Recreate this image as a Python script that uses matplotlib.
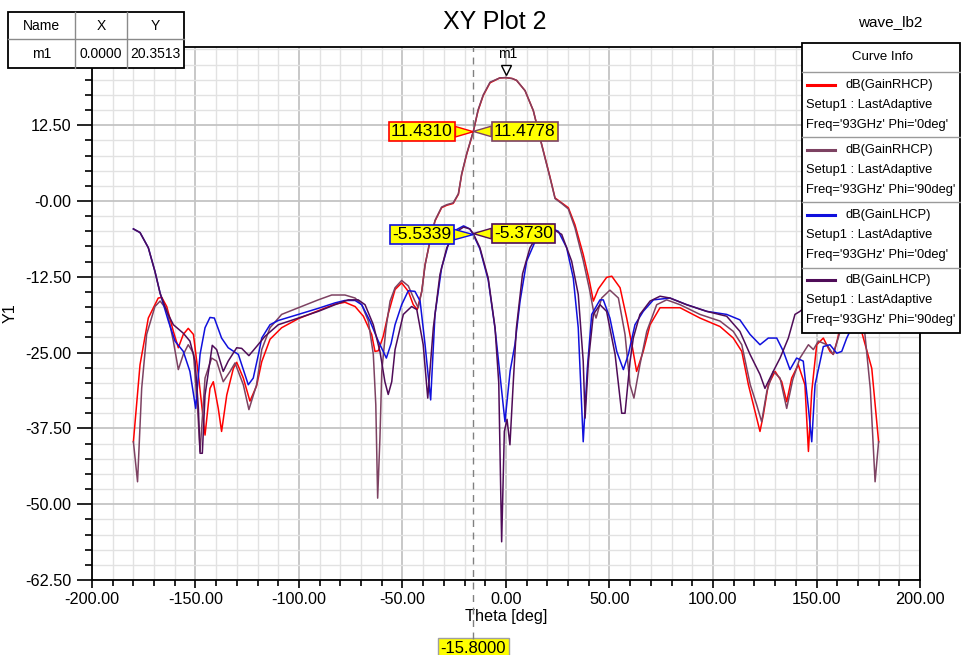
import matplotlib
matplotlib.use("Agg")
import matplotlib.pyplot as plt
from matplotlib.patches import Rectangle
from matplotlib.lines import Line2D
from matplotlib.ticker import MultipleLocator

plt.rcParams["font.family"] = ["Liberation Sans", "DejaVu Sans"]

# ---- data ----
theta_rhcp0 = [-180, -176.8, -172.8, -168, -166.3, -163.9, -160.7, -158.3, -155.9, -153.5, -151, -148.6,
               -145.4, -143, -141.4, -139, -137.4, -134.9, -131.7, -130.1, -126.9, -123.7, -120.5, -118,
               -114, -108.4, -100.3, -90.7, -82.6, -77.8, -72.9, -68.9, -64.9, -63.3, -61.7, -59.3, -56.9,
               -53.6, -50.4, -47.2, -44.8, -42.9, -40.7, -39.1, -36.7, -34.3, -31.1, -28.6, -25.5, -23,
               -21.4, -19, -15.8, -13.5, -11, -7.7, -3, 0, 3, 5.1, 9.2, 13.2, 17.2, 21.3, 23.7, 26.9, 30.1,
               33.3, 37.3, 40.3, 42.2, 44.6, 48.6, 51.1, 55.1, 58.3, 61, 63.1, 66.3, 69.6, 74.4, 84.1, 93.7,
               103.4, 109.8, 113.9, 117.1, 120.3, 122.7, 124.3, 126.7, 130, 133.2, 135.6, 138, 141.2, 144.4,
               146.1, 147.7, 150.1, 153.3, 156.5, 158.1, 160, 163, 166, 168.5, 172, 176.7, 180]
gain_rhcp0 = [-39.7, -27, -19.3, -16, -15.9, -17.4, -21.5, -24.2, -22, -21, -22, -28.7,
              -38.6, -30.9, -29.8, -34.2, -38, -32, -27.6, -26.6, -29.2, -33, -30.5, -26.5,
              -22.8, -20.9, -19.4, -18.1, -17.0, -16.7, -17.4, -19.0, -22, -24.8, -24.7, -22.3, -18.6,
              -14.6, -13.5, -14.9, -17.1, -17.9, -14.9, -10.5, -6.6, -3.3, -1.1, -0.7, -0.4, 1.1,
              4.4, 7.7, 11.431, 14.9, 17.4, 19.5, 20.3, 20.3513, 20.2, 19.9, 18.2, 14.9, 9.4, 3.9, 0.5, -0.3, -1.1,
              -3.9, -8.8, -13.2, -16.5, -14.5, -12.6, -12.4, -14.3, -19.3, -24, -28.1, -24.8, -20.4, -17.6, -17.6, -19.3,
              -20.7, -22.6, -24.8, -30.3, -34.7, -38, -35.3, -30.3, -28.1, -29.8, -33.1, -29.2, -27, -30.3,
              -41.3, -31.4, -23.7, -22.6, -24.8, -25.3, -23, -18.5, -16.5, -16.5, -21.8, -27.6, -39.7]

theta_rhcp90 = [-180, -178, -176, -173.6, -169.6, -167.1, -163.9, -160.7, -158.3, -155.9, -153.5, -151, -149,
                -147.8, -145.4, -142.2, -139.8, -136.6, -133.3, -130.9, -126.9, -124.2, -120.5, -118, -114,
                -108.4, -100.3, -90.7, -84.2, -77.8, -72.9, -69.7, -66.5, -64.1, -62.9, -62, -60.9, -60, -58,
                -56, -53.6, -50.4, -47.2, -44, -42.4, -40.7, -39.1, -36.7, -34.3, -31.1, -28.6, -25.5, -23,
                -21.4, -19, -15.8, -13.5, -11, -7.7, -3, 0, 3, 5.1, 9.2, 13.2, 17.2, 21.3, 23.7, 26.9, 30.1,
                33.3, 37.3, 40.3, 42.2, 43.5, 46.2, 50.2, 54.3, 57.5, 59.9, 61.8, 64.7, 68, 72.8, 77.6, 84.1,
                93.7, 103.4, 109.8, 113.9, 118, 121.1, 123.5, 126, 129.1, 132.4, 135.6, 138.5, 142, 146.1,
                148.5, 150.9, 155, 158.1, 161, 165, 169, 171.5, 173.4, 176, 178.3, 180]
gain_rhcp90 = [-39.7, -46.3, -30.9, -22, -17.4, -16.5, -17.9, -23.1, -27.8, -25.3, -23.7, -25.1, -34.2,
               -41.3, -29.2, -25.9, -26.4, -29.8, -28.1, -26.7, -30.3, -34.4, -30.3, -24.5, -20.9,
               -18.7, -17.6, -16.3, -15.5, -15.5, -16, -17.1, -19.8, -25.3, -33.6, -49, -39.1, -28, -21,
               -16.5, -14.3, -13.1, -14, -16.5, -17.6, -14.9, -10.6, -6.5, -3.2, -1.0, -0.6, -0.3, 1.2,
               4.5, 7.8, 11.4778, 15.0, 17.5, 19.6, 20.3, 20.35, 20.2, 19.9, 18.2, 14.9, 9.3, 3.8, 0.4, -0.4, -1.3,
               -4.4, -9.8, -14.5, -18, -19.3, -16, -14.7, -16, -22, -30.3, -32.5, -27, -21.5, -17.1, -16.3, -17.1,
               -18.7, -19.8, -21.5, -23.7, -30.3, -33.6, -36.4, -31.4, -28.1, -29.2, -34.2, -29.5, -25.9, -23.7,
               -24.5, -23.1, -23.7, -25.3, -22, -17.5, -16.8, -18.5, -22, -31, -46.3, -39.7]

theta_lhcp0 = [-180, -176.8, -172.8, -169.6, -167.1, -163.1, -159.9, -155.9, -152.7, -149.9, -147.8, -145.4,
               -143, -140.9, -137.4, -134.2, -129.3, -124.5, -122.1, -119.6, -118, -114, -110, -100.3, -90.7,
               -82.6, -77.8, -72.9, -69.7, -65.7, -61.7, -57.8, -55.5, -53.6, -50.4, -47.2, -44, -41.5, -39.1,
               -36.4, -34.3, -31.1, -27.9, -23.8, -20.5, -17.5, -15.8, -12.6, -8.6, -5.3, -2.5, -0.5, 2, 4.3,
               6.8, 10, 14.8, 21.3, 25.3, 29.3, 32.5, 34.9, 37.3, 39.3, 41.4, 45.4, 47, 50.2, 53.5, 56.7, 59.1,
               62.3, 66.3, 71.2, 79.2, 87.3, 97, 106.6, 113, 117.9, 122.7, 126.7, 130.8, 134, 137.2, 140.4,
               143.6, 146.1, 147.7, 149.3, 153.3, 156.5, 159.8, 162.2, 164.6, 167, 170, 173, 176, 180]
gain_lhcp0 = [-4.6, -5.2, -7.7, -11.6, -15.2, -19.8, -23.1, -24.8, -28.1, -34.2, -25.3, -20.9,
              -19.2, -19.3, -22.6, -24.2, -25.3, -30.3, -29.2, -25.3, -22.6, -20.4, -19.7, -18.7, -17.7,
              -16.8, -16.4, -16.4, -17.1, -19.8, -23.1, -25.9, -23.5, -20.4, -17.1, -14.8, -14.9, -16.5, -23.7,
              -32.8, -18.7, -11, -7.2, -4.7, -4.1, -4.6, -5.5339, -7.9, -13, -21, -30, -36.4, -28, -23.7,
              -16.5, -9.9, -6.1, -4.4, -5, -7.7, -12.7, -20.9, -39.7, -27.6, -18.7, -16.3, -16.3, -19.3, -24.8, -27.8, -25.3,
              -20.4, -18.2, -16.3, -16, -17.1, -18.2, -18.7, -19.6, -22, -23.7, -22.6, -22.6, -24.8, -27.8, -25.9,
              -26.4, -34.2, -39.7, -30.3, -24, -23.7, -25.1, -24.8, -22.6, -20.9, -15, -10, -6.5, -4.6]

theta_lhcp90 = [-180, -176.8, -172.8, -169.6, -167.1, -163.9, -160.7, -155.9, -152.7, -150.2, -148.6, -147.8,
                -146.7, -145.4, -143, -141.9, -139.8, -136.6, -134.2, -130.1, -127.7, -124.2, -120.5, -116.4,
                -110, -100.3, -90.7, -82.6, -76.2, -71.4, -68.1, -64.1, -60.9, -58.5, -56.9, -55.2, -53.6,
                -49.6, -45.6, -43.1, -40, -37.8, -35.1, -31.9, -28.6, -24.6, -20.5, -17.5, -15.8, -12.6, -8.6,
                -5.3, -3.5, -2.1, -0.8, 0.5, 1.9, 3.5, 5, 8, 11.6, 16.4, 22.9, 26.9, 31.7, 34.9, 37.3, 38.2,
                39.8, 42.2, 45.4, 48.6, 52.7, 55.9, 57.5, 59.9, 61.5, 64.7, 69.6, 74.4, 79.2, 87.3, 97, 106.6,
                113, 117.9, 122.7, 125.1, 129.1, 132.4, 136.4, 139.6, 142, 146, 152, 158, 163, 168, 173, 177, 180]
gain_lhcp90 = [-4.6, -5.2, -7.7, -11.6, -15.2, -18.2, -20.4, -21.8, -23.1, -26.4, -34.2, -41.6,
               -41.6, -32, -26.4, -23.8, -24.5, -28.1, -26.4, -24.2, -24.3, -25.5, -24, -22.3,
               -20.4, -19.3, -18.2, -17.1, -16.3, -16.3, -17.1, -20.4, -24.8, -29.8, -31.9, -29.8, -24.5,
               -18.7, -17.4, -17.9, -23.7, -32.5, -20.9, -12.1, -7.7, -5.2, -4.3, -4.6, -5.373, -7.7, -12.7,
               -20.9, -30, -56.2, -38, -36, -40.2, -30, -21, -12, -7.7, -5, -4.7, -5.5, -9.9, -15.4, -26.4, -35.8,
               -26.4, -18.7, -17.1, -18.2, -25.3, -35, -35, -26.5, -22.6, -18.7, -16.5, -15.7, -16, -17.1, -18.2, -19,
               -21.5, -25.3, -28.6, -30.9, -28.1, -25.9, -22.6, -18.7, -18.2, -17, -17.5, -17, -15, -11, -7.5, -5.3, -4.6]

series = [
    (theta_rhcp0, gain_rhcp0, "#ff0000", "dB(GainRHCP)", "Phi='0deg'"),
    (theta_rhcp90, gain_rhcp90, "#7d4262", "dB(GainRHCP)", "Phi='90deg'"),
    (theta_lhcp0, gain_lhcp0, "#1010dd", "dB(GainLHCP)", "Phi='0deg'"),
    (theta_lhcp90, gain_lhcp90, "#4f0c58", "dB(GainLHCP)", "Phi='90deg'"),
]

marker_theta = -15.8
marker_vals = [11.4310, 11.4778, -5.5339, -5.3730]
m1_x, m1_y = 0.0, 20.3513

xticks = [-200, -150, -100, -50, 0, 50, 100, 150, 200]
xtick_labels = ["-200.00", "-150.00", "-100.00", "-50.00", "0.00", "50.00", "100.00", "150.00", "200.00"]
yticks = [-62.5, -50, -37.5, -25, -12.5, 0, 12.5]
ytick_labels = ["-62.50", "-50.00", "-37.50", "-25.00", "-12.50", "-0.00", "12.50"]

W, H = 962, 655
fig = plt.figure(figsize=(W / 100, H / 100), dpi=100)
ax = fig.add_axes([92 / W, 1 - 580 / H, 828 / W, 533 / H])


def fx(x):
    return x / W


def fy(y):
    return 1 - y / H


for th, g, col, name, phi in series:
    ax.plot(th, g, color=col, lw=1.1, zorder=3)

ax.set_xlim(-200, 200)
ax.set_ylim(-62.5, 25.4)
ax.set_xticks(xticks)
ax.set_xticklabels(xtick_labels)
ax.set_yticks(yticks)
ax.set_yticklabels(ytick_labels)
ax.xaxis.set_minor_locator(MultipleLocator(10))
ax.yaxis.set_minor_locator(MultipleLocator(2.5))
ax.grid(which="minor", color="#e2e2e2", lw=1.0, zorder=0)
ax.grid(which="major", color="#c4c4c4", lw=1.3, zorder=0)
ax.set_axisbelow(True)
ax.tick_params(axis="y", which="major", direction="out", length=10.8, width=1.2, pad=4, labelsize=11.7)
ax.tick_params(axis="y", which="minor", direction="out", length=5, width=1.2)
ax.tick_params(axis="x", which="major", direction="out", length=6, width=1.2, pad=3, labelsize=11.7)
ax.tick_params(axis="x", which="minor", direction="out", length=4, width=1.2)
for s in ax.spines.values():
    s.set_linewidth(1.3)
ax.set_xlabel("Theta [deg]", fontsize=11.7, labelpad=1)
ax.set_ylabel("Y1", fontsize=11.7)
ax.yaxis.set_label_coords((18 - 92) / 828, 0.5)

# marker line
ax.plot([marker_theta, marker_theta], [-0.11, 1], transform=ax.get_xaxis_transform(),
        color="#808080", lw=1.0, ls=(0, (5, 4)), clip_on=False, zorder=4)

# marker labels
offsets = [(-37, 0), (37, 0), (-37, 0), (36, 0)]
for (th, g, col, name, phi), v, off in zip(series, marker_vals, offsets):
    ax.annotate(f"{v:.4f}", xy=(marker_theta, v), xytext=off, textcoords="offset points",
                ha="center", va="center", fontsize=12.5, annotation_clip=False, zorder=6,
                bbox=dict(boxstyle="square,pad=0.12", fc="#ffff00", ec=col, lw=1.2),
                arrowprops=dict(arrowstyle="wedge,tail_width=0.6,shrink_factor=0.5",
                                fc="#ffff00", ec=col, lw=1.0, shrinkA=0, shrinkB=0))

ax.annotate(f"{marker_theta:.4f}", xy=(marker_theta, 0), xycoords=("data", "axes fraction"),
            xytext=(0, -49), textcoords="offset points", ha="center", va="center", fontsize=12,
            bbox=dict(boxstyle="square,pad=0.15", fc="#ffff00", ec="#a0a0a0", lw=1.0),
            annotation_clip=False)

# m1 marker
ax.plot([m1_x], [m1_y], marker="v", ms=7, mfc="white", mec="black", mew=1.0,
        transform=ax.transData + matplotlib.transforms.ScaledTranslation(0, 8 / 100, fig.dpi_scale_trans),
        clip_on=False, zorder=6)
ax.annotate("m1", xy=(m1_x, m1_y), xytext=(1.5, 17), textcoords="offset points",
            ha="center", va="center", fontsize=10, annotation_clip=False)

# title texts
fig.text(fx(495), fy(22), "XY Plot 2", ha="center", va="center", fontsize=18)
fig.text(fx(922), fy(22), "wave_lb2", ha="right", va="center", fontsize=11)

# marker table
tbl_x = [8, 75, 126.7, 184.5]
tbl_y = [11.7, 39.3, 67.7]
fig.add_artist(Rectangle((fx(tbl_x[0]), fy(tbl_y[2])), fx(tbl_x[3] - tbl_x[0]), (tbl_y[2] - tbl_y[0]) / H,
                         transform=fig.transFigure, fc="white", ec="black", lw=1.3, zorder=10))
for xx in tbl_x[1:3]:
    fig.add_artist(Line2D([fx(xx)] * 2, [fy(tbl_y[0]), fy(tbl_y[2])], transform=fig.transFigure,
                          color="#8a8a8a", lw=1.0, zorder=11))
fig.add_artist(Line2D([fx(tbl_x[0]), fx(tbl_x[3])], [fy(tbl_y[1])] * 2, transform=fig.transFigure,
                      color="#8a8a8a", lw=1.0, zorder=11))
header = ["Name", "X", "Y"]
row = ["m1", f"{m1_x:.4f}", f"{m1_y:.4f}"]
for i in range(3):
    cx = (tbl_x[i] + tbl_x[i + 1]) / 2
    fig.text(fx(cx), fy(26), header[i], ha="center", va="center", fontsize=10, zorder=12)
    fig.text(fx(cx), fy(54), row[i], ha="center", va="center", fontsize=10, zorder=12)

# curve info box
lx0, lx1 = 802, 960
ly = [43.3, 71.7, 136.7, 201.7, 268.3, 333.3]
fig.add_artist(Rectangle((fx(lx0), fy(ly[-1])), fx(lx1 - lx0), (ly[-1] - ly[0]) / H,
                         transform=fig.transFigure, fc="white", ec="black", lw=1.3, zorder=10))
for yy in ly[1:-1]:
    fig.add_artist(Line2D([fx(lx0), fx(lx1)], [fy(yy)] * 2, transform=fig.transFigure,
                          color="#9a9a9a", lw=1.0, zorder=11))
fig.text(fx(883), fy(57.5), "Curve Info", ha="center", va="center", fontsize=9.5, zorder=12)
for k, (th, g, col, name, phi) in enumerate(series):
    y0 = 85 + 65 * k
    fig.add_artist(Line2D([fx(807), fx(835)], [fy(y0)] * 2, transform=fig.transFigure,
                          color=col, lw=2.2, zorder=12))
    fig.text(fx(846), fy(y0), name, ha="left", va="center", fontsize=9.3, zorder=12)
    fig.text(fx(806), fy(y0 + 20), "Setup1 : LastAdaptive", ha="left", va="center", fontsize=9.3, zorder=12)
    fig.text(fx(806), fy(y0 + 40), "Freq='93GHz' " + phi, ha="left", va="center", fontsize=9.3, zorder=12)

fig.savefig("out.png", dpi=100)
